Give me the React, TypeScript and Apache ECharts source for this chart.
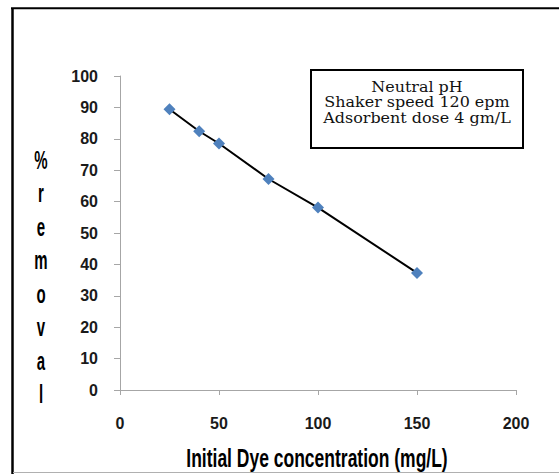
import React, { useEffect, useRef } from "react";
import * as echarts from "echarts";

const concentrations = [25, 40, 50, 75, 100, 150];
const removal = [89.4, 82.4, 78.5, 67.2, 58.1, 37.3];
const yTitleLetters = ["%", "r", "e", "m", "o", "v", "a", "l"];
const xTitle = "Initial Dye concentration (mg/L)";
const legendLines = ["Neutral pH", "Shaker speed 120 epm", "Adsorbent dose 4 gm/L"];

export default function App() {
  const ref = useRef<HTMLDivElement>(null);
  useEffect(() => {
    if (!ref.current) return;
    const chart = echarts.init(ref.current, null, { renderer: "svg" });
    const axisColor = "#a6a6a6";
    const labelStyle = {
      color: "#1a1a1a",
      fontFamily: "Liberation Sans",
      fontWeight: "bold" as const,
      fontSize: 16,
    };
    chart.setOption({
      animation: false,
      backgroundColor: "#ffffff",
      grid: { left: 120, top: 76, width: 396, height: 314, containLabel: false },
      xAxis: {
        type: "value",
        min: 0,
        max: 200,
        interval: 50,
        axisLine: { show: true, lineStyle: { color: axisColor, width: 1 } },
        axisTick: { show: true, length: 5, lineStyle: { color: axisColor } },
        splitLine: { show: false },
        axisLabel: { ...labelStyle, margin: 25 },
      },
      yAxis: {
        type: "value",
        min: 0,
        max: 100,
        interval: 10,
        axisLine: { show: true, lineStyle: { color: axisColor, width: 1 } },
        axisTick: { show: true, length: 6, lineStyle: { color: axisColor } },
        splitLine: { show: false },
        axisLabel: { ...labelStyle, margin: 22 },
      },
      series: [
        {
          type: "line",
          data: concentrations.map((c, i) => [c, removal[i]]),
          lineStyle: { color: "#000000", width: 2 },
          symbol: "diamond",
          symbolSize: 12,
          itemStyle: { color: "#4f81bd" },
          z: 3,
        },
      ],
      graphic: [
        { type: "line", shape: { x1: 12.5, y1: 8, x2: 12.5, y2: 474 }, style: { stroke: "#000", lineWidth: 2.5 } },
        { type: "line", shape: { x1: 11, y1: 8.2, x2: 559, y2: 8.2 }, style: { stroke: "#000", lineWidth: 2 } },
        { type: "line", shape: { x1: 13, y1: 472.5, x2: 559, y2: 472.5 }, style: { stroke: "#b0b0b0", lineWidth: 1 } },
        {
          type: "rect",
          shape: { x: 311, y: 70, width: 212, height: 78 },
          style: { fill: "#fff", stroke: "#000", lineWidth: 2 },
          z: 10,
        },
        ...legendLines.map((line, i) => ({
          type: "text",
          x: 417,
          y: 87 + i * 15.7,
          scaleX: 1.1,
          z: 11,
          style: {
            text: line,
            fontFamily: "DejaVu Serif",
            fontSize: 14.5,
            fill: "#111",
            align: "center",
            verticalAlign: "middle",
          },
        })),
        {
          type: "text",
          x: 41,
          y: 277,
          scaleX: 0.6,
          scaleY: 1,
          style: {
            text: yTitleLetters.join("\n"),
            fontFamily: "Liberation Sans",
            fontWeight: "bold",
            fontSize: 25,
            lineHeight: 33.5,
            fill: "#000",
            align: "center",
            verticalAlign: "middle",
          },
        },
        {
          type: "text",
          x: 317,
          y: 458,
          scaleX: 0.7,
          scaleY: 1,
          style: {
            text: xTitle,
            fontFamily: "Liberation Sans",
            fontWeight: "bold",
            fontSize: 25,
            fill: "#000",
            align: "center",
            verticalAlign: "middle",
          },
        },
      ],
    });
    return () => chart.dispose();
  }, []);
  return (
    <div
      ref={ref}
      style={{ position: "fixed", left: 0, top: 0, width: 559, height: 474 }}
    />
  );
}
